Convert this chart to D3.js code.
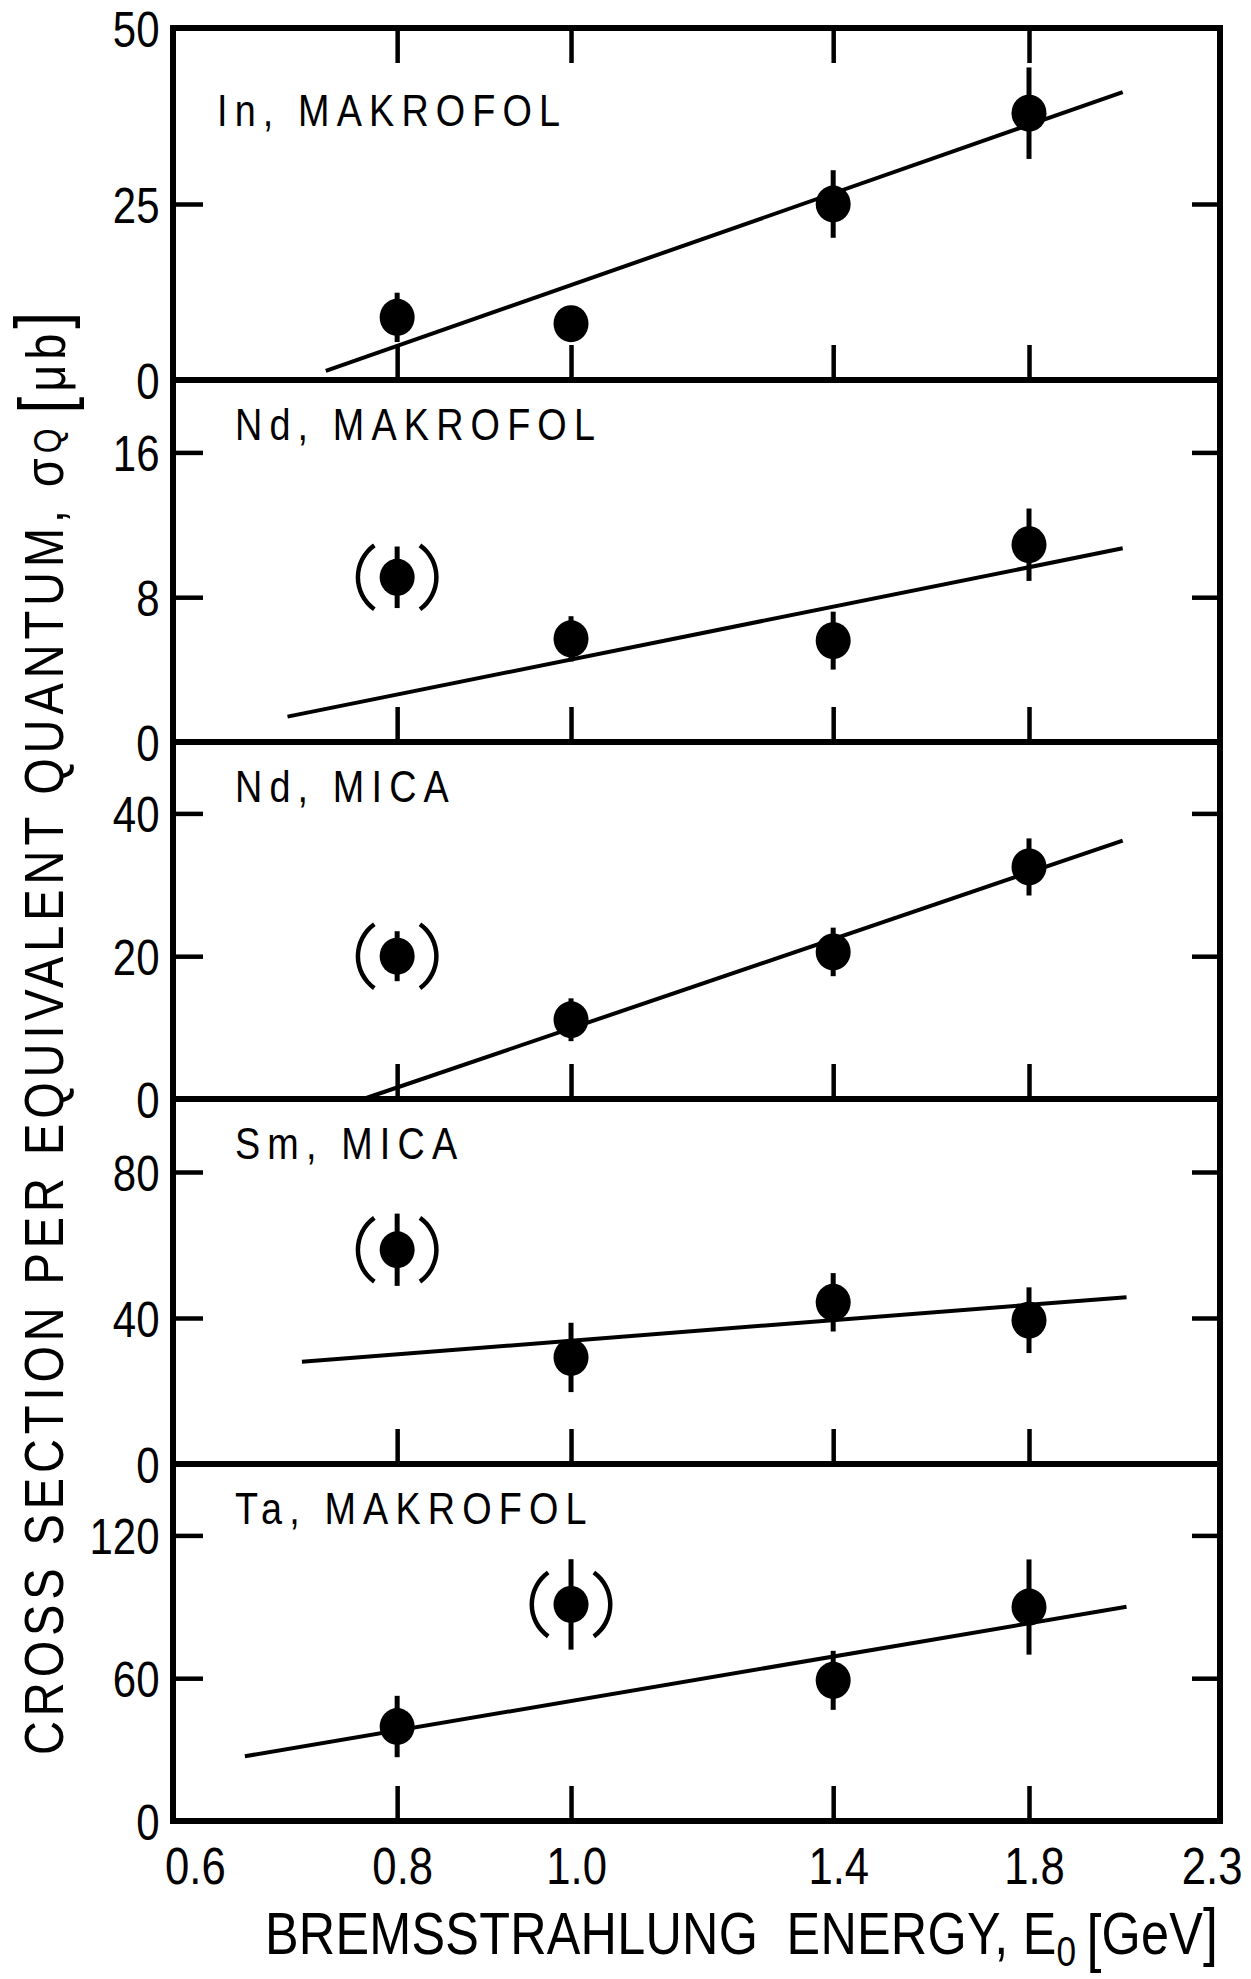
<!DOCTYPE html>
<html>
<head>
<meta charset="utf-8">
<script src="https://cdn.jsdelivr.net/npm/d3@7"></script>
<style>
    body { margin: 0; background: #fff; }
    text { font-family: "Liberation Sans", Arial, sans-serif; fill: #000; }
</style>
</head>
<body>
<svg id="chart" width="1251" height="1979"></svg>
<script>
// x values (GeV) and axis labels
const energies = [0.8, 1.0, 1.4, 1.8];
const xTickLabels = [0.6, 0.8, 1.0, 1.4, 1.8, 2.3];

// panel titles, y ranges and y tick labels
const panelLabels = ["In, MAKROFOL", "Nd, MAKROFOL", "Nd, MICA", "Sm, MICA", "Ta, MAKROFOL"];
const yMax = [50, 20, 50, 100, 150];
const yTickValues = [[0, 25, 50], [0, 8, 16], [0, 20, 40], [0, 40, 80], [0, 60, 120]];

// measured cross sections (μb) and errors
const inMakrofol = [8.9, 8.0, 25.0, 37.9];
const inMakrofolErr = [3.5, 0, 4.8, 6.5];
const ndMakrofol = [9.1, 5.7, 5.6, 10.9];
const ndMakrofolErr = [1.7, 1.25, 1.6, 2.0];
const ndMica = [20.0, 11.1, 20.6, 32.5];
const ndMicaErr = [3.5, 3.0, 3.4, 4.0];
const smMica = [58.7, 29.2, 44.3, 39.4];
const smMicaErr = [9.9, 9.5, 8.0, 9.0];
const taMakrofol = [39.7, 91.0, 59.1, 89.9];
const taMakrofolErr = [12.9, 19.0, 12.4, 20.0];

// energy of the point shown in parentheses (excluded from fit)
const bracketedAt = [null, 0.8, 0.8, 0.8, 1.0];

// fitted straight lines, [energy, σ] end points
const fitIn = [[0.73, 1.3], [2.03, 40.9]];
const fitNdMakrofol = [[0.695, 1.4], [2.03, 10.7]];
const fitNdMica = [[0.766, 0], [2.03, 36.2]];
const fitSmMica = [[0.708, 28.0], [2.04, 45.7]];
const fitTa = [[0.658, 27.2], [2.04, 90.0]];

const panels = [
    { label: panelLabels[0], max: yMax[0], ticks: yTickValues[0], values: inMakrofol, errors: inMakrofolErr, fit: fitIn, bracket: bracketedAt[0] },
    { label: panelLabels[1], max: yMax[1], ticks: yTickValues[1], values: ndMakrofol, errors: ndMakrofolErr, fit: fitNdMakrofol, bracket: bracketedAt[1] },
    { label: panelLabels[2], max: yMax[2], ticks: yTickValues[2], values: ndMica, errors: ndMicaErr, fit: fitNdMica, bracket: bracketedAt[2] },
    { label: panelLabels[3], max: yMax[3], ticks: yTickValues[3], values: smMica, errors: smMicaErr, fit: fitSmMica, bracket: bracketedAt[3] },
    { label: panelLabels[4], max: yMax[4], ticks: yTickValues[4], values: taMakrofol, errors: taMakrofolErr, fit: fitTa, bracket: bracketedAt[4] }
];

const svg = d3.select('#chart');

// pixel edges of the stacked panels (layout only)
const panelEdges = [28, 380, 742, 1099, 1464, 1821];
const plotBottom = panelEdges[panelEdges.length - 1];

// the lettering of the original is condensed
const squeeze = 0.84;

const x = d3.scaleLog().domain([0.6, 2.3]).range([173, 1220]);
const plotLeft = x.range()[0], plotRight = x.range()[1];

const parenArc = d3.arc().innerRadius(37).outerRadius(41.5);

panels.forEach((p, i) => {
    const panelH = panelEdges[i + 1] - panelEdges[i];
    const g = svg.append('g').attr('transform', `translate(0,${panelEdges[i]})`);
    const y = d3.scaleLinear().domain([0, p.max]).range([panelH, 0]);

    // frame
    g.append('rect')
        .attr('x', plotLeft).attr('y', 0)
        .attr('width', plotRight - plotLeft).attr('height', panelH)
        .attr('fill', 'none').attr('stroke', '#000').attr('stroke-width', 6);

    // inward x ticks at the bottom (and top of the first panel)
    const xb = g.append('g').attr('transform', `translate(0,${panelH})`)
        .call(d3.axisBottom(x).tickValues(energies).tickSizeInner(-35).tickSizeOuter(0).tickFormat(''));
    xb.select('.domain').remove();
    if (i === 0) {
        const xt = g.append('g')
            .call(d3.axisTop(x).tickValues(energies).tickSizeInner(-35).tickSizeOuter(0).tickFormat(''));
        xt.select('.domain').remove();
    }

    // left axis with labels, right axis ticks only
    const yl = g.append('g').attr('transform', `translate(${plotLeft},0)`)
        .call(d3.axisLeft(y).tickValues(p.ticks).tickSizeInner(-30).tickSizeOuter(0).tickPadding(16));
    yl.select('.domain').remove();
    yl.selectAll('text')
        .attr('font-size', 50)
        .attr('dy', '0.36em')
        .attr('transform', `scale(${squeeze},1)`);

    const yr = g.append('g').attr('transform', `translate(${plotRight},0)`)
        .call(d3.axisRight(y).tickValues(p.ticks).tickSizeInner(-28).tickSizeOuter(0).tickFormat(''));
    yr.select('.domain').remove();

    g.selectAll('.tick line').attr('stroke', '#000').attr('stroke-width', 4.5);

    // panel label
    g.append('text')
        .attr('transform', `translate(${plotLeft + (i === 0 ? 44 : 62)},${i === 0 ? 98 : 60}) scale(${squeeze},1)`)
        .attr('font-size', 45)
        .attr('letter-spacing', 8.5)
        .text(p.label);

    // fit line
    g.append('path')
        .datum(p.fit)
        .attr('d', d3.line().x(d => x(d[0])).y(d => y(d[1])))
        .attr('fill', 'none').attr('stroke', '#000').attr('stroke-width', 4);

    const pts = energies.map((e, k) => ({ e: e, v: p.values[k], err: p.errors[k] }));

    // error bars
    g.selectAll('.err').data(pts.filter(d => d.err > 0)).enter().append('line')
        .attr('class', 'err')
        .attr('x1', d => x(d.e)).attr('x2', d => x(d.e))
        .attr('y1', d => y(d.v - d.err)).attr('y2', d => y(d.v + d.err))
        .attr('stroke', '#000').attr('stroke-width', 5);

    // points
    g.selectAll('.pt').data(pts).enter().append('ellipse')
        .attr('class', 'pt')
        .attr('cx', d => x(d.e)).attr('cy', d => y(d.v))
        .attr('rx', 17.5).attr('ry', 18.5)
        .attr('fill', '#000');

    // parentheses around the excluded point
    const bp = pts.filter(d => d.e === p.bracket);
    g.selectAll('.paren').data(bp.flatMap(d => [{ d: d, a: -Math.PI / 2 }, { d: d, a: Math.PI / 2 }]))
        .enter().append('path')
        .attr('class', 'paren')
        .attr('transform', o => `translate(${x(o.d.e)},${y(o.d.v)})`)
        .attr('d', o => parenArc({ startAngle: o.a - 0.95, endAngle: o.a + 0.95 }))
        .attr('fill', '#000');
});

// x tick labels under the last panel
const xl = svg.append('g').attr('transform', `translate(0,${plotBottom})`)
    .call(d3.axisBottom(x).tickValues(xTickLabels).tickSize(0).tickPadding(26).tickFormat(d3.format('.1f')));
xl.select('.domain').remove();
xl.selectAll('text')
    .attr('font-size', 52)
    .attr('dx', d => d === 0.6 ? 26 : (d === 2.3 ? -10 : 6))
    .attr('transform', `scale(${squeeze},1)`);

// x title
const xTitle = svg.append('text')
    .attr('transform', `translate(265,1954) scale(${squeeze},1)`)
    .attr('font-size', 60)
    .attr('textLength', 953 / squeeze)
    .attr('lengthAdjust', 'spacing');
xTitle.append('tspan').text('BREMSSTRAHLUNG\u00A0\u00A0ENERGY, E');
xTitle.append('tspan').attr('font-size', 42).attr('dy', 12).text('0');
xTitle.append('tspan').attr('font-size', 64).attr('dy', -6).attr('dx', 12).text('[');
xTitle.append('tspan').attr('font-size', 60).attr('dy', -6).text('GeV');
xTitle.append('tspan').attr('font-size', 64).text(']');

// y title
const yTitle = svg.append('text')
    .attr('transform', `translate(63,1755) rotate(-90) scale(${squeeze},1)`)
    .attr('font-size', 56)
    .attr('textLength', 1443 / squeeze)
    .attr('lengthAdjust', 'spacing');
yTitle.append('tspan').text('CROSS SECTION PER EQUIVALENT QUANTUM, σ');
yTitle.append('tspan').attr('font-size', 38).attr('dy', -2).text('Q');
yTitle.append('tspan').attr('font-size', 72).attr('dy', 8).attr('dx', 12).text('[');
yTitle.append('tspan').attr('font-size', 56).attr('dy', -4).text('μb');
yTitle.append('tspan').attr('font-size', 72).text(']');
</script>
</body>
</html>
